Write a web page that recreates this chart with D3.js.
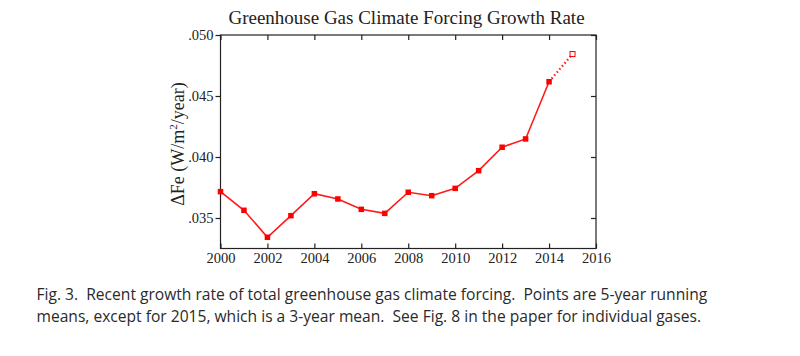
<!DOCTYPE html>
<html>
<head>
<meta charset="utf-8">
<script src="https://cdn.jsdelivr.net/npm/d3@7"></script>
<style>
  html, body { margin: 0; padding: 0; background: #fff; }
  svg { display: block; }
  text.cap { white-space: pre; }
</style>
</head>
<body>
<svg id="chart" width="800" height="356"></svg>
<script>
const years = [2000, 2001, 2002, 2003, 2004, 2005, 2006, 2007, 2008, 2009, 2010, 2011, 2012, 2013, 2014, 2015];
const forcingRate = [0.03716, 0.03563, 0.03342, 0.03519, 0.03699, 0.03656, 0.03571, 0.03538, 0.03711, 0.03683, 0.03743, 0.03888, 0.04080, 0.04148, 0.04617, 0.04844];
const xTicks = [2000, 2002, 2004, 2006, 2008, 2010, 2012, 2014, 2016];
const yTicks = [0.035, 0.040, 0.045, 0.050];
const yTickLabels = [".035", ".040", ".045", ".050"];
const title = "Greenhouse Gas Climate Forcing Growth Rate";
const captionLines = [
  "Fig. 3.  Recent growth rate of total greenhouse gas climate forcing.  Points are 5-year running",
  "means, except for 2015, which is a 3-year mean.  See Fig. 8 in the paper for individual gases."
];

const svg = d3.select("#chart");
const m = { left: 220.5, right: 596, top: 35, bottom: 248.5 };
const x = d3.scaleLinear().domain([2000, 2016]).range([m.left, m.right]);
const y = d3.scaleLinear().domain([0.0325, 0.050]).range([m.bottom, m.top]);
const serif = "'Liberation Serif', 'DejaVu Serif', serif";
const axisColor = "#222";

// Frame
svg.append("rect")
  .attr("x", m.left).attr("y", m.top)
  .attr("width", m.right - m.left).attr("height", m.bottom - m.top)
  .attr("fill", "none").attr("stroke", axisColor).attr("stroke-width", 1.2);

// Bottom axis (inward ticks)
const gB = svg.append("g").attr("transform", `translate(0,${m.bottom})`)
  .call(d3.axisBottom(x).tickValues(xTicks).tickFormat(d3.format("d")).tickSizeInner(-5).tickSizeOuter(0).tickPadding(4.5));
// Top axis (inward ticks)
const gT = svg.append("g").attr("transform", `translate(0,${m.top})`)
  .call(d3.axisTop(x).tickValues(xTicks).tickFormat("").tickSizeInner(-5).tickSizeOuter(0));
// Left axis (outward ticks)
const gL = svg.append("g").attr("transform", `translate(${m.left},0)`)
  .call(d3.axisLeft(y).tickValues(yTicks).tickFormat((d, i) => yTickLabels[i]).tickSizeInner(5).tickSizeOuter(0).tickPadding(2));
// Right axis (inward ticks)
const gR = svg.append("g").attr("transform", `translate(${m.right},0)`)
  .call(d3.axisRight(y).tickValues(yTicks).tickFormat("").tickSizeInner(-5).tickSizeOuter(0));

[gB, gT, gL, gR].forEach(g => {
  g.select(".domain").remove();
  g.selectAll(".tick line").attr("stroke", axisColor).attr("stroke-width", 1.2);
  g.selectAll("text").attr("font-family", serif).attr("font-size", 14.5).attr("fill", "#222");
});

// Line (solid through 2014, dotted 2014-2015)
const pts = years.map((yr, i) => ({ yr, v: forcingRate[i] }));
const line = d3.line().x(d => x(d.yr)).y(d => y(d.v));
svg.append("path").datum(pts.slice(0, pts.length - 1))
  .attr("d", line).attr("fill", "none").attr("stroke", "#ff1a1a").attr("stroke-width", 1.6);
svg.append("path").datum(pts.slice(pts.length - 2))
  .attr("d", line).attr("fill", "none").attr("stroke", "#ff1a1a").attr("stroke-width", 2.2)
  .attr("stroke-dasharray", "1.5,2.5");

// Markers
const s = 5.5;
svg.selectAll("rect.pt").data(pts.slice(0, pts.length - 1)).enter().append("rect")
  .attr("class", "pt")
  .attr("x", d => x(d.yr) - s / 2).attr("y", d => y(d.v) - s / 2)
  .attr("width", s).attr("height", s).attr("fill", "#ff0000");
const last = pts[pts.length - 1];
svg.append("rect")
  .attr("x", x(last.yr) - 2.5).attr("y", y(last.v) - 2.5)
  .attr("width", 5).attr("height", 5)
  .attr("fill", "#fff").attr("stroke", "#ff0000").attr("stroke-width", 1);

// Title
svg.append("text").attr("x", 406.5).attr("y", 24)
  .attr("text-anchor", "middle").attr("font-family", serif).attr("font-size", 19)
  .attr("fill", "#222").text(title);

// Y label
const yl = svg.append("text")
  .attr("transform", `translate(184,144) rotate(-90)`)
  .attr("text-anchor", "middle").attr("font-family", serif).attr("font-size", 18).attr("fill", "#222");
yl.append("tspan").text("ΔFe (W/m");
yl.append("tspan").attr("dy", -7).attr("font-size", 11).text("2");
yl.append("tspan").attr("dy", 7).text("/year)");

// Caption
svg.selectAll("text.cap").data(captionLines).enter().append("text")
  .attr("class", "cap")
  .attr("x", 36.5).attr("y", (d, i) => 299.5 + i * 22)
  .attr("font-family", "'Open Sans', sans-serif").attr("font-size", 15.6)
  .attr("fill", "#2a2a2a").text(d => d);
</script>
</body>
</html>
